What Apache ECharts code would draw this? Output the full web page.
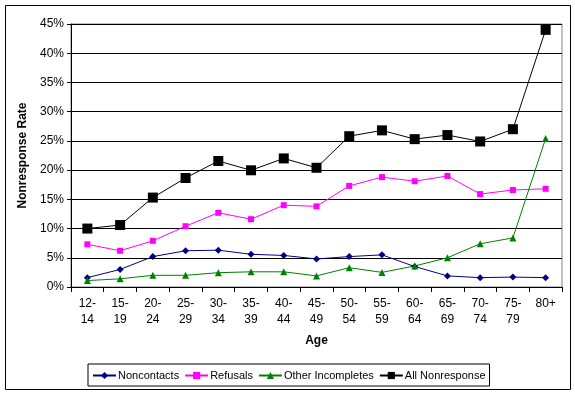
<!DOCTYPE html>
<html><head><meta charset="utf-8">
<script src="https://cdn.jsdelivr.net/npm/echarts@6/dist/echarts.min.js"></script>
<style>html,body{margin:0;padding:0;background:#fff}#c{width:575px;height:395px}</style>
</head><body><div id="c"></div>
<script>
var categories = ['12-\n14','15-\n19','20-\n24','25-\n29','30-\n34','35-\n39','40-\n44','45-\n49','50-\n54','55-\n59','60-\n64','65-\n69','70-\n74','75-\n79','80+'];
var noncontacts = [1.6,3.0,5.2,6.2,6.3,5.6,5.4,4.8,5.2,5.5,3.5,1.9,1.6,1.7,1.6];
var refusals = [7.3,6.2,7.9,10.4,12.7,11.6,14.0,13.8,17.3,18.8,18.1,19.0,15.9,16.6,16.8];
var otherIncompletes = [1.1,1.4,2.0,2.0,2.45,2.6,2.6,1.9,3.3,2.5,3.6,5.0,7.4,8.4,25.4];
var allNonresponse = [10.0,10.6,15.3,18.65,21.56,19.97,22.0,20.4,25.8,26.8,25.3,26.0,24.9,27.0,44.0];

var font = 'Liberation Sans, Arial, sans-serif';
var chart = echarts.init(document.getElementById('c'), null, {renderer:'canvas'});
function s(name, data, color, symbol, size){
  return {name:name, type:'line', data:data, symbol:symbol, symbolSize:size,
    lineStyle:{color:color, width:1}, itemStyle:{color:color}, animation:false};
}
chart.setOption({
  animation:false,
  textStyle:{fontFamily:font},
  graphic:[{type:'rect', shape:{x:5.5,y:5.5,width:565,height:384}, style:{fill:'none', stroke:'#000', lineWidth:1}, z:-1}],
  grid:{left:71, right:13, top:24, bottom:108, show:true, borderColor:'#808080', borderWidth:1},
  xAxis:{type:'category', data:categories, boundaryGap:true,
    name:'Age', nameLocation:'middle', nameGap:48,
    nameTextStyle:{fontWeight:'bold', fontSize:12, color:'#000', fontFamily:font},
    axisLine:{lineStyle:{color:'#000'}},
    axisTick:{show:true, alignWithLabel:false, length:5, lineStyle:{color:'#000'}},
    axisLabel:{interval:0, color:'#000', fontSize:12, lineHeight:16, margin:9, fontFamily:font},
    splitLine:{show:false}},
  yAxis:{type:'value', min:0, max:45, interval:5,
    name:'Nonresponse Rate', nameLocation:'middle', nameGap:41, nameRotate:90,
    nameTextStyle:{fontWeight:'bold', fontSize:12, color:'#000', fontFamily:font},
    axisLine:{show:true, lineStyle:{color:'#000'}},
    axisTick:{show:true, length:4, lineStyle:{color:'#000'}},
    axisLabel:{formatter:'{value}%', color:'#000', fontSize:12, margin:7, fontFamily:font},
    splitLine:{lineStyle:{color:'#000', width:1}}},
  legend:{bottom:9, left:88, itemGap:5, itemWidth:23, itemHeight:9,
    borderColor:'#000', borderWidth:1, padding:[6,4,5,4],
    textStyle:{color:'#000', fontSize:11, fontFamily:font, padding:[0,0,0,-3]},
    data:['Noncontacts','Refusals','Other Incompletes','All Nonresponse']},
  series:[
    s('Noncontacts', noncontacts, '#000080', 'diamond', 7),
    s('Refusals', refusals, '#FF00FF', 'rect', 6),
    s('Other Incompletes', otherIncompletes, '#008000', 'triangle', 7),
    s('All Nonresponse', allNonresponse, '#000000', 'rect', 10)
  ]
});
</script></body></html>
